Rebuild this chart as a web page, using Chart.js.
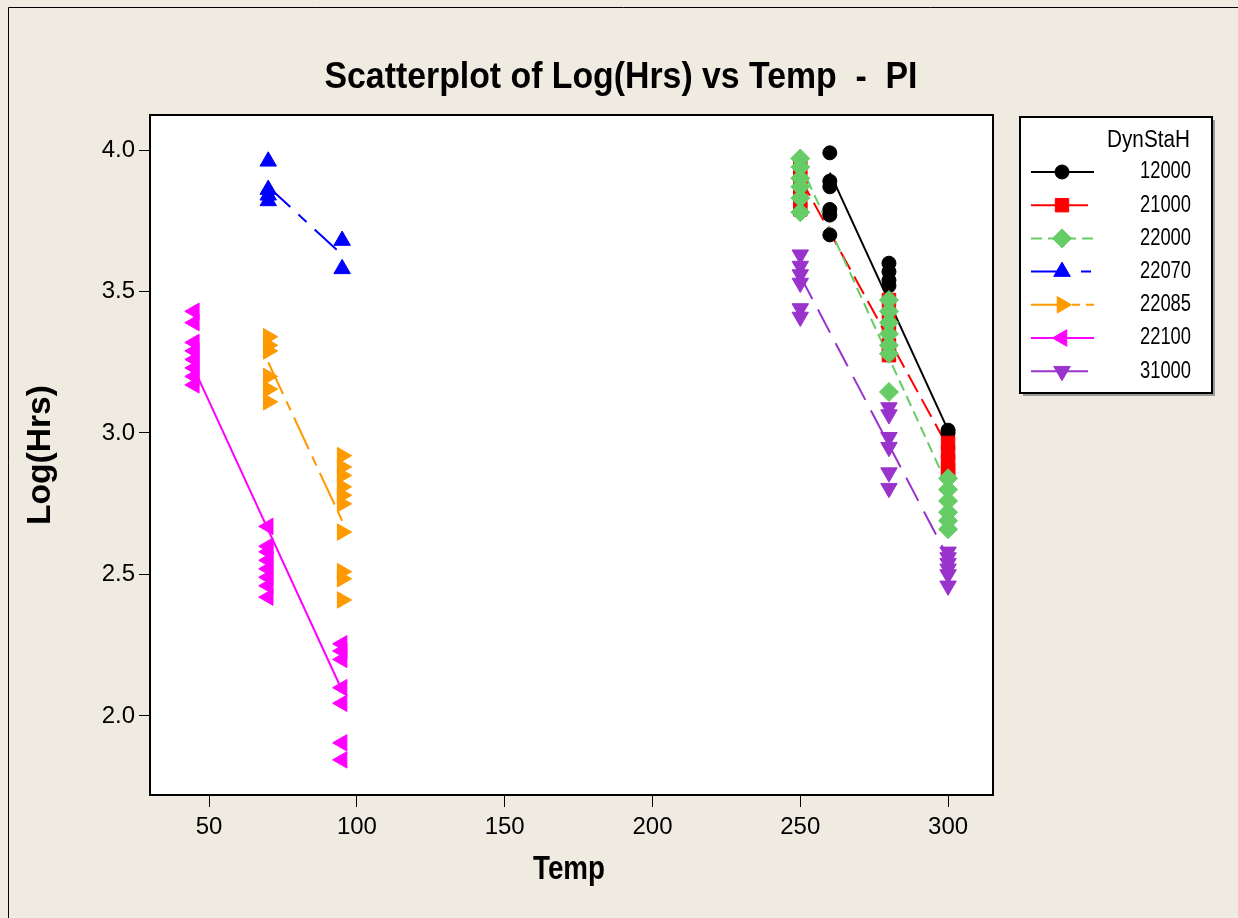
<!DOCTYPE html>
<html>
<head>
<meta charset="utf-8">
<title>Scatterplot of Log(Hrs) vs Temp - PI</title>
<script src="https://cdn.jsdelivr.net/npm/chart.js@4.4.0/dist/chart.umd.min.js"></script>
<style>
    html, body { margin: 0; padding: 0; background: #efebe1; }
</style>
</head>
<body>
<canvas id="scatter" width="1238" height="918"></canvas>
<script>
// DynStaH groups, points as [Temp, Log(Hrs)]
var groups = ["12000", "21000", "22000", "22070", "22085", "22100", "31000"];

var pts12000 = [[260, 3.99], [260, 3.89], [260, 3.87], [260, 3.79], [260, 3.77], [260, 3.70],
    [280, 3.60], [280, 3.57], [280, 3.54], [280, 3.52], [300, 3.01], [300, 3.00]];
var pts21000 = [[250, 3.94], [250, 3.90], [250, 3.86], [250, 3.82], [250, 3.79],
    [280, 3.47], [280, 3.42], [280, 3.37], [280, 3.31], [280, 3.275],
    [300, 2.965], [300, 2.93], [300, 2.90], [300, 2.87], [300, 2.855]];
var pts22000 = [[250, 3.97], [250, 3.94], [250, 3.90], [250, 3.87], [250, 3.83], [250, 3.78],
    [280, 3.47], [280, 3.43], [280, 3.39], [280, 3.35], [280, 3.31], [280, 3.28], [280, 3.145],
    [300, 2.84], [300, 2.80], [300, 2.76], [300, 2.72], [300, 2.69], [300, 2.66]];
var pts22070 = [[70, 3.96], [70, 3.86], [70, 3.84], [70, 3.82], [95, 3.68], [95, 3.58]];
var pts22085 = [[70, 3.34], [70, 3.31], [70, 3.29], [70, 3.20], [70, 3.155], [70, 3.11],
    [95, 2.92], [95, 2.88], [95, 2.85], [95, 2.81], [95, 2.78], [95, 2.75], [95, 2.65],
    [95, 2.51], [95, 2.485], [95, 2.41]];
var pts22100 = [[45, 3.43], [45, 3.39], [45, 3.32], [45, 3.29], [45, 3.26], [45, 3.23], [45, 3.20], [45, 3.17],
    [70, 2.67], [70, 2.60], [70, 2.58], [70, 2.55], [70, 2.52], [70, 2.49], [70, 2.46], [70, 2.42],
    [95, 2.255], [95, 2.23], [95, 2.20], [95, 2.10], [95, 2.045], [95, 1.905], [95, 1.845]];
var pts31000 = [[250, 3.63], [250, 3.59], [250, 3.56], [250, 3.53], [250, 3.44], [250, 3.41],
    [280, 3.09], [280, 3.065], [280, 2.985], [280, 2.95], [280, 2.86], [280, 2.805],
    [300, 2.58], [300, 2.56], [300, 2.54], [300, 2.52], [300, 2.50], [300, 2.46]];

// regression line end points for each group
var fit12000 = [[260, 3.92], [300, 3.01]];
var fit21000 = [[250, 3.90], [300, 2.95]];
var fit22000 = [[250, 3.95], [300, 2.81]];
var fit22070 = [[70, 3.87], [95, 3.63]];
var fit22085 = [[70, 3.25], [95, 2.69]];
var fit22100 = [[45, 3.225], [95, 2.09]];
var fit31000 = [[250, 3.555], [300, 2.56]];

var xTicks = [50, 100, 150, 200, 250, 300];
var yTicks = [2.0, 2.5, 3.0, 3.5, 4.0];

var allPts = [pts12000, pts21000, pts22000, pts22070, pts22085, pts22100, pts31000];
var allFits = [fit12000, fit21000, fit22000, fit22070, fit22085, fit22100, fit31000];

// look of each group
var colors = ["#000000", "#ff0000", "#66cc66", "#0000ff", "#ff9900", "#ff00ff", "#9933cc"];
var shapes = ["circle", "rect", "rectRot", "triangle", "triangle", "triangle", "triangle"];
var turns = [0, 0, 0, 0, 90, 270, 180];
var sizes = [7, 9.5, 9.5, 9.5, 9.5, 9.5, 9.5];
var dashes = [[], [20, 8], [11, 6], [30, 11, 11, 11], [35, 8, 10, 8], [], [26, 12]];
// the short legend keys only show part of each pattern
var keyDashes = [[], [], [11, 6], [30, 20, 10, 10], [37, 4, 8, 6, 8, 10], [], []];
var keyEnds = [1094, 1088, 1094, 1094, 1094, 1094, 1088];

var plain = "'Liberation Sans', Arial, sans-serif";

function toXY(list) {
    return list.map(function(p) { return { x: p[0], y: p[1] }; });
}

// Minitab text is squeezed, so draw it at a given width
function fitText(ctx, text, x, y, font, width, align, angle) {
    ctx.save();
    ctx.font = font;
    var w = ctx.measureText(text).width;
    ctx.translate(x, y);
    if (angle) ctx.rotate(angle);
    ctx.scale(width / w, 1);
    ctx.textAlign = align;
    ctx.fillText(text, 0, 0);
    ctx.restore();
}

var datasets = [];
for (var i = 0; i < groups.length; i++) {
    datasets.push({
        label: groups[i] + " fit",
        data: toXY(allFits[i]),
        showLine: true,
        borderColor: colors[i],
        borderWidth: 2,
        borderDash: dashes[i],
        pointRadius: 0,
        order: 20 - i
    });
}
for (var j = 0; j < groups.length; j++) {
    datasets.push({
        label: groups[j],
        data: toXY(allPts[j]),
        backgroundColor: colors[j],
        borderColor: colors[j],
        borderWidth: 1,
        pointStyle: shapes[j],
        pointRotation: turns[j],
        pointRadius: sizes[j],
        order: 7 - j
    });
}

var frameParts = {
    id: 'frameParts',
    beforeDraw: function(chart) {
        var ctx = chart.ctx;
        var a = chart.chartArea;
        ctx.save();
        ctx.fillStyle = '#efebe1';
        ctx.fillRect(0, 0, chart.width, chart.height);
        ctx.strokeStyle = '#000';
        ctx.lineWidth = 1;
        ctx.beginPath();
        ctx.moveTo(8.5, chart.height);
        ctx.lineTo(8.5, 7.5);
        ctx.lineTo(chart.width, 7.5);
        ctx.stroke();
        ctx.fillStyle = '#fff';
        ctx.fillRect(a.left, a.top, a.right - a.left, a.bottom - a.top);
        ctx.restore();
    },
    afterDraw: function(chart) {
        var ctx = chart.ctx;
        var a = chart.chartArea;
        ctx.save();
        // plot frame
        ctx.strokeStyle = '#000';
        ctx.lineWidth = 2;
        ctx.strokeRect(a.left, a.top, a.right - a.left, a.bottom - a.top);

        // title and axis titles
        ctx.fillStyle = '#000';
        ctx.textBaseline = 'alphabetic';
        fitText(ctx, 'Scatterplot of Log(Hrs) vs Temp  -  PI', 621, 88, 'bold 36px ' + plain, 593, 'center');
        fitText(ctx, 'Temp', 569, 879, 'bold 34px ' + plain, 72, 'center');
        fitText(ctx, 'Log(Hrs)', 50, 455, 'bold 34px ' + plain, 140, 'center', -Math.PI / 2);

        // legend box
        var bx = 1020, by = 117, bw = 192, bh = 276;
        ctx.fillStyle = '#999';
        ctx.fillRect(bx + 3, by + 3, bw, bh);
        ctx.fillStyle = '#fff';
        ctx.fillRect(bx, by, bw, bh);
        ctx.strokeStyle = '#000';
        ctx.lineWidth = 2;
        ctx.strokeRect(bx, by, bw, bh);

        ctx.fillStyle = '#000';
        ctx.textBaseline = 'middle';
        fitText(ctx, 'DynStaH', 1190, 141, '23px ' + plain, 83, 'right');

        for (var k = 0; k < groups.length; k++) {
            var ly = 172 + k * 33.2;
            ctx.save();
            ctx.strokeStyle = colors[k];
            ctx.lineWidth = 2;
            ctx.setLineDash(keyDashes[k]);
            ctx.beginPath();
            ctx.moveTo(1031, ly);
            ctx.lineTo(keyEnds[k], ly);
            ctx.stroke();
            ctx.setLineDash([]);
            ctx.fillStyle = colors[k];
            ctx.lineWidth = 1;
            Chart.helpers.drawPoint(ctx, {
                pointStyle: shapes[k],
                rotation: turns[k],
                radius: sizes[k],
                borderWidth: 1
            }, 1062, ly);
            ctx.restore();
            ctx.fillStyle = '#000';
            ctx.textBaseline = 'middle';
            fitText(ctx, groups[k], 1191, ly, '23px ' + plain, 51, 'right');
        }
        ctx.restore();
    }
};

var ctxScatter = document.getElementById("scatter").getContext("2d");
var scatter_chart = new Chart(ctxScatter, {
    type: 'scatter',
    data: { datasets: datasets },
    options: {
        responsive: false,
        animation: false,
        devicePixelRatio: 1,
        layout: { padding: { left: 0, top: 115, right: 245, bottom: 0 } },
        plugins: {
            legend: { display: false },
            title: { display: false },
            tooltip: { enabled: false }
        },
        scales: {
            x: {
                type: 'linear',
                min: 30,
                max: 315.2,
                afterBuildTicks: function(s) {
                    s.ticks = xTicks.map(function(v) { return { value: v }; });
                },
                afterFit: function(s) { s.height = 123; },
                grid: { drawOnChartArea: false, drawTicks: true, tickLength: 12, tickColor: '#000', lineWidth: 1 },
                border: { display: false },
                ticks: { color: '#000', font: { family: plain, size: 24 }, padding: 6, maxRotation: 0 }
            },
            y: {
                type: 'linear',
                min: 1.7208,
                max: 4.1237,
                afterBuildTicks: function(s) {
                    s.ticks = yTicks.map(function(v) { return { value: v }; });
                },
                afterFit: function(s) { s.width = 150; },
                grid: { drawOnChartArea: false, drawTicks: true, tickLength: 11, tickColor: '#000', lineWidth: 1 },
                border: { display: false },
                ticks: {
                    color: '#000',
                    font: { family: plain, size: 24 },
                    padding: 4,
                    callback: function(v) { return v.toFixed(1); }
                }
            }
        }
    },
    plugins: [frameParts]
});
</script>
</body>
</html>
